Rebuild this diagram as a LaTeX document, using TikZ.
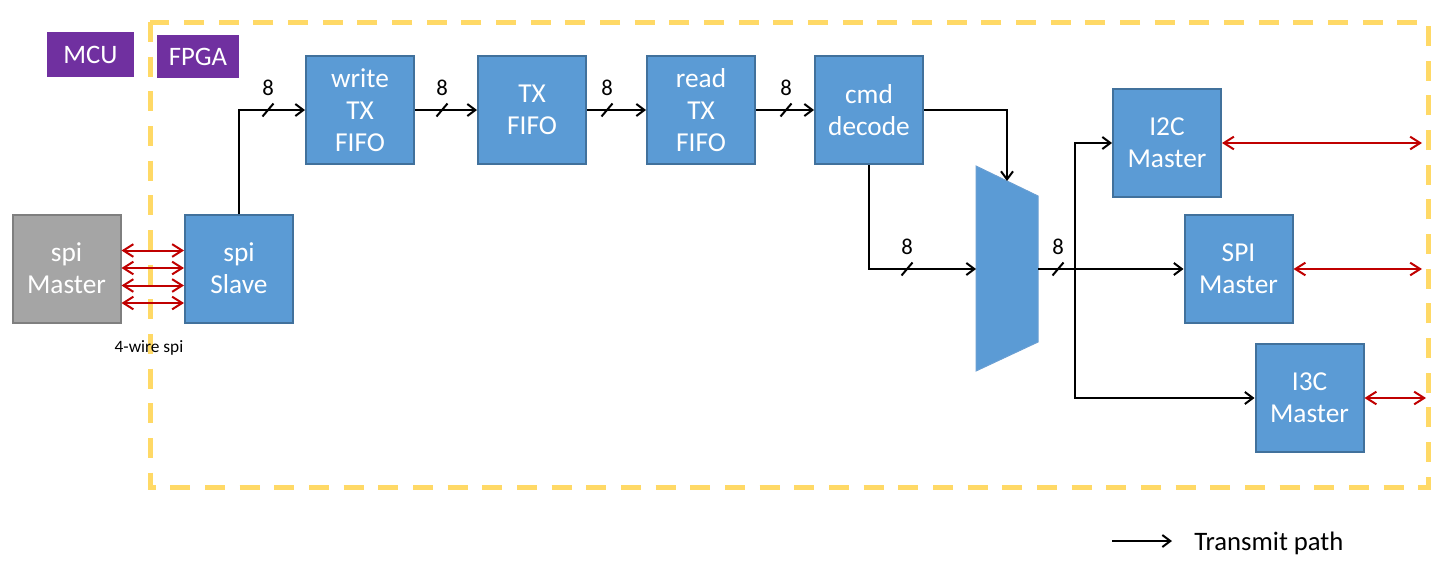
\documentclass[tikz,border=0pt]{standalone}
\usepackage{fontspec}
\setmainfont{Carlito}
\usetikzlibrary{arrows.meta}
\definecolor{boxblue}{HTML}{5B9BD5}
\definecolor{boxline}{HTML}{41719C}
\definecolor{muxline}{HTML}{6A9FD3}
\definecolor{mcugray}{HTML}{A5A5A5}
\definecolor{mculine}{HTML}{7F7F7F}
\definecolor{tagpurple}{HTML}{7030A0}
\definecolor{fpgayellow}{HTML}{FFD966}
\definecolor{sigred}{HTML}{C00000}
\tikzset{
  block/.style={draw=boxline, line width=1.5pt, fill=boxblue, text=white,
    minimum width=81pt, minimum height=81pt, inner sep=0pt, align=center,
    font=\fontsize{20.5pt}{24pt}\selectfont},
  tag/.style={fill=tagpurple, text=white, inner sep=0pt,
    font=\fontsize{20pt}{22pt}\selectfont},
  wire/.style={line width=1.5pt},
  tx/.style={wire, -{Straight Barb[length=6pt,width=9pt]}},
  sig/.style={draw=sigred, line width=1.5pt,
    {Straight Barb[length=7.5pt,width=9.5pt]}-{Straight Barb[length=7.5pt,width=9.5pt]}},
  buslbl/.style={inner sep=0pt, font=\fontsize{17pt}{19pt}\selectfont}
}
% bus width mark: name, x, y
\newcommand{\busw}[3]{%
  \draw[wire] (#2,#3) +(-5.5,6.5) -- +(5.5,-6.5);
  \node[buslbl] (#1) at (#2,#3-22) {8};
}
\begin{document}
\begin{tikzpicture}[x=0.75pt,y=-0.75pt]
\useasboundingbox (0,0) rectangle (1441,569);

% FPGA border
\draw[fpgayellow, line width=3.75pt, dash pattern=on 15pt off 11pt] (150,22) rectangle (1428,487);
\node[tag, minimum width=65pt, minimum height=33.75pt] (mcu) at (90.5,54.5) {MCU};
\node[tag, minimum width=61.5pt, minimum height=32pt] (fpga) at (198,56.5) {FPGA};

% blocks
\node[block, draw=mculine, fill=mcugray] (spimaster) at (66.5,268.5) {spi\\Master};
\node[block] (slave) at (239,268.5) {spi\\Slave};
\node[block] (wtx) at (360,110) {write\\TX\\FIFO};
\node[block] (txf) at (532,110) {TX\\FIFO};
\node[block] (rtx) at (701,110) {read\\TX\\FIFO};
\node[block] (cmd) at (869,110) {cmd\\decode};
\node[block] (i2c) at (1167,143) {I2C\\Master};
\node[block] (spim) at (1238.5,269) {SPI\\Master};
\node[block] (i3c) at (1309.5,398) {I3C\\Master};

% mux
\draw[fill=boxblue, draw=muxline, line width=0.75pt] (976,166) -- (1038,196) -- (1038,342) -- (976,371) -- cycle;
\coordinate (muxin) at (976,269);
\coordinate (muxout) at (1038,269);
\coordinate (muxsel) at (1007,181);
\coordinate (fork) at (1075,269);

% 4-wire spi
\foreach \y in {250.5,268,285.5,303}
  \draw[sig] (spimaster.east |- 0,\y) -- (slave.west |- 0,\y);
\node[font=\fontsize{13pt}{15pt}\selectfont] (spilbl) at (149,348) {4-wire spi};

% transmit path
\draw[tx] (slave.north) |- (wtx.west);
\draw[tx] (wtx.east) -- (txf.west);
\draw[tx] (txf.east) -- (rtx.west);
\draw[tx] (rtx.east) -- (cmd.west);
\draw[tx] (cmd.east) -| (muxsel);
\draw[tx] (cmd.south) |- (muxin);
\draw[tx] (muxout) -- (spim.west);
\draw[tx] (fork) |- (i2c.west);
\draw[tx] (fork) |- (i3c.west);

\busw{b1}{268}{110}
\busw{b2}{442}{110}
\busw{b3}{607}{110}
\busw{b4}{786}{110}
\busw{b5}{907}{269}
\busw{b6}{1058}{269}

% outputs
\coordinate (i2cpin) at (1422,143);
\coordinate (spipin) at (1422,269);
\coordinate (i3cpin) at (1426,398);
\draw[sig] (i2c.east) -- (i2cpin);
\draw[sig] (spim.east) -- (spipin);
\draw[sig] (i3c.east) -- (i3cpin);

% legend
\coordinate (legA) at (1112,541);
\coordinate (legB) at (1172,541);
\draw[tx] (legA) -- (legB);
\node[anchor=base west, inner sep=0pt, font=\fontsize{20pt}{22pt}\selectfont] (legtxt) at (1194,550) {Transmit path};
\end{tikzpicture}
\end{document}
